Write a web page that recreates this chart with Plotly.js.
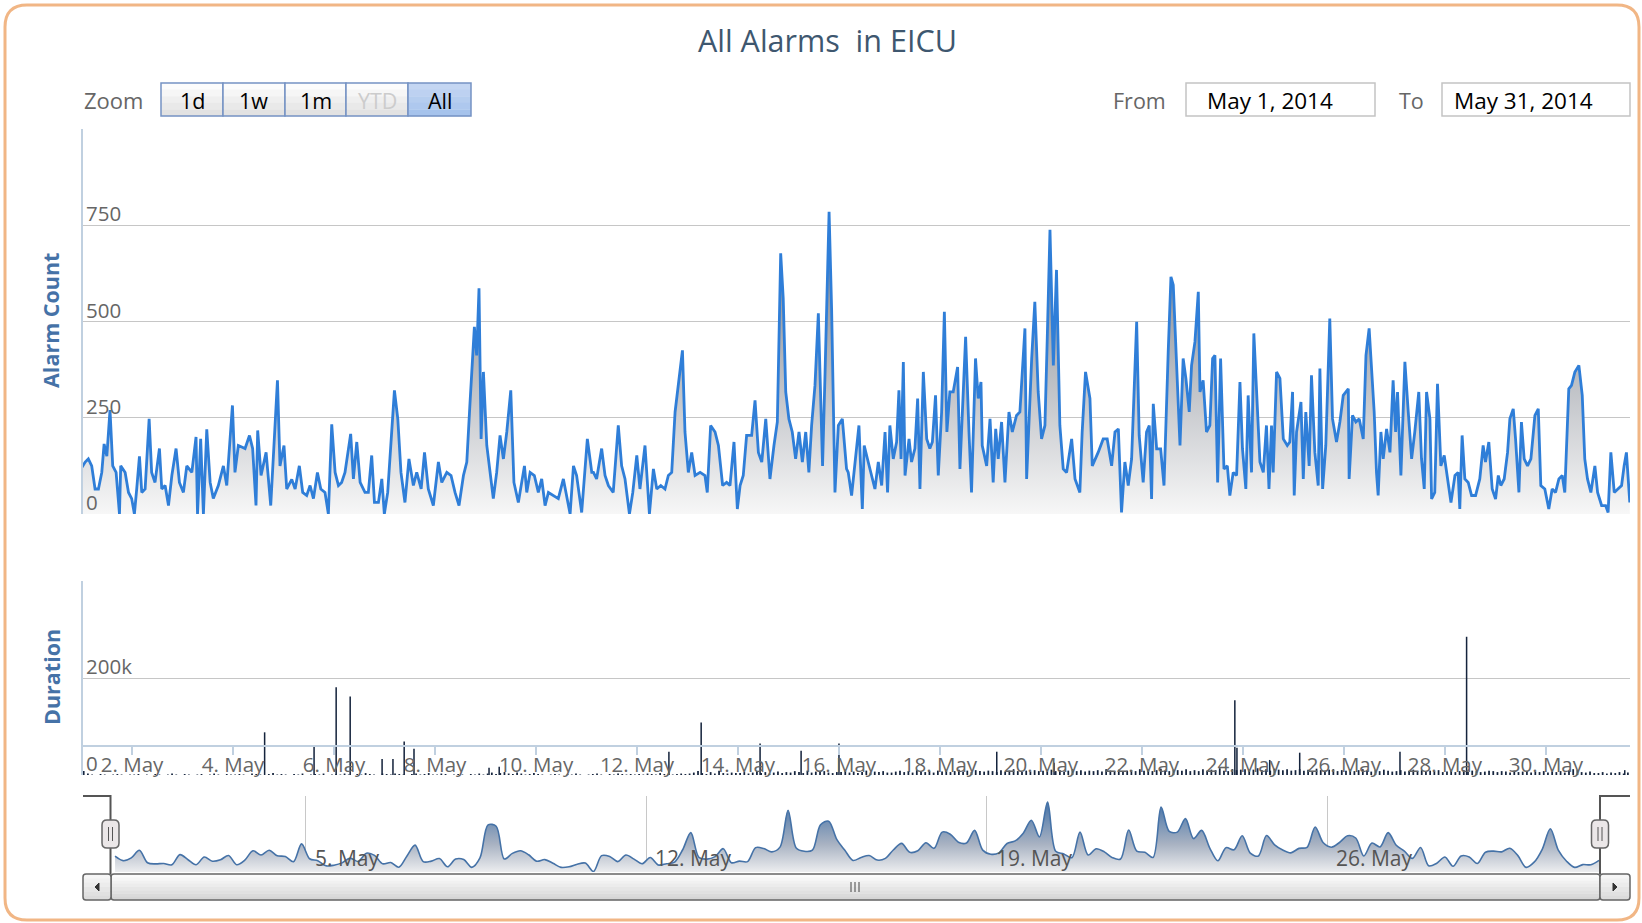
<!DOCTYPE html>
<html>
<head>
<meta charset="utf-8">
<script src="https://cdn.plot.ly/plotly-3.0.1.min.js"></script>
<style>
html,body{margin:0;padding:0;background:#fff;}
#chart{width:1642px;height:923px;}
</style>
</head>
<body>
<div id="chart"></div>
<script>
// ---------------- DATA ----------------
const chartTitle = 'All Alarms\u00A0 in EICU';
const seriesStart = '2014-05-01T00:00:00Z';

// alarm count readings: hours after 1 May 00:00 and the count at that time
const alarmHours = [
0,1.7,3.2,4.8,6.4,8.0,9.6,10.7,12.0,13.5,14.8,16.4,18.0,18.6,20.7,22.3,23.8,25.1,26.2,27.5,
28.6,30.2,32.1,33.3,34.9,37.0,38.1,39.7,41.3,42.9,44.9,46.5,48.4,50.0,52.4,54.4,55.1,56.6,57.9,59.5,
61.1,62.6,65.0,67.4,69.0,71.7,72.9,74.5,76.1,77.7,79.8,81.3,82.9,83.7,85.3,87.7,89.9,91.2,93.1,94.3,
96.2,97.5,99.9,101.5,103.5,105.1,107.0,108.6,110.2,112.1,113.7,115.7,117.3,118.9,120.5,122.1,
123.6,125.2,127.9,129.2,130.8,132.4,134.7,136.3,137.9,139.2,141.1,142.7,143.9,145.5,147.4,148.7,150.3,151.8,153.7,155.6,
157.7,159.3,161.4,163.0,164.8,167.2,169.6,171.2,173.6,175.6,177.5,179.4,181.5,183.1,184.6,186.7,187.8,188.9,189.9,191.0,
192.6,194.1,195.7,197.3,198.9,200.5,202.1,204.0,205.5,207.6,210.5,211.6,213.2,215.2,217.1,218.7,220.3,221.9,224.2,226.6,
229.0,230.6,232.2,233.8,235.3,237.7,240.4,242.5,
243.3,244.8,247.2,248.8,250.4,252.7,255.1,256.7,258.3,260.4,262.0,263.9,265.4,267.8,269.9,271.8,273.4,275.3,277.3,278.9,
280.5,282.1,284.1,285.6,286.8,288.4,290.0,291.6,294.0,296.3,297.4,299.0,301.1,302.7,304.7,306.6,308.2,310.1,311.7,313.0,
314.5,316.1,318.5,320.1,321.7,323.3,325.2,327.2,329.1,330.7,332.3,333.5,334.7,336.2,337.8,339.4,341.0,342.6,344.2,345.7,
347.0,348.6,350.2,351.3,352.2,353.4,355.3,356.5,358.1,359.7,361.6,363.6,
364.4,366.0,367.6,369.5,371.1,372.0,373.9,375.5,377.1,378.7,380.3,381.9,383.1,384.2,385.8,387.4,388.5,389.5,390.6,391.4,
393.3,394.5,396.1,397.4,398.5,400.1,401.7,403.2,404.4,405.9,407.2,408.8,410.1,411.3,412.7,414.3,416.4,417.5,420.2,421.8,
423.0,424.9,426.2,427.5,428.1,430.2,431.8,433.3,434.5,435.7,437.3,438.9,440.8,442.4,444.4,446.0,448.4,449.2,451.6,453.1,
454.7,456.3,457.9,459.0,460.3,461.9,463.4,465.0,466.6,468.2,470.6,472.2,474.5,475.6,477.2,479.3,480.4,483.2,485.6,
487.5,489.6,491.2,492.8,494.3,495.9,497.5,499.1,501.5,502.7,504.6,506.2,507.5,508.6,509.4,511.0,512.9,514.5,516.5,517.8,
518.9,520.2,522.1,523.6,524.9,526.5,527.6,529.2,530.8,531.6,533.1,534.7,536.3,537.6,538.7,540.0,541.4,543.0,544.6,545.8,
547.4,549.0,550.6,551.8,553.4,554.5,556.1,557.2,558.5,560.1,561.7,563.2,564.4,565.6,566.4,568.0,569.6,571.2,573.1,574.3,
575.6,576.4,577.5,579.6,580.7,581.9,583.5,584.6,586.2,587.8,588.6,589.9,591.4,593.3,594.6,596.5,598.1,599.7,602.1,602.5,
604.1,605.7,607.3,609.2,610.5,612.0,
614.4,615.5,616.3,617.6,618.7,620.3,621.9,623.4,624.6,625.5,627.1,629.0,630.6,632.2,633.7,635.6,636.9,638.2,639.3,640.9,
641.7,643.2,644.5,646.1,647.7,649.6,650.9,652.8,654.3,655.1,656.2,657.5,659.1,660.7,662.6,664.6,666.2,667.3,668.9,670.5,
672.1,673.4,674.6,676.2,677.8,678.9,680.5,681.6,683.2,684.4,685.7,687.3,688.9,690.8,692.4,693.6,695.5,697.4,699.0,700.6,
702.2,703.8,705.0,706.9,708.2,709.8,711.7,713.3,714.5,715.8,717.4,719.3,720.6,722.5,724.4,725.6,726.9,728.5,730.1,732.0,
733.2,734.3,735.9
];
const alarmCount = [
120,135,143,125,65,65,108,182,150,270,125,108,0,125,108,56,40,0,65,150,
56,65,247,108,82,170,65,74,22,100,170,82,56,125,108,200,0,195,0,220,
82,40,74,125,74,282,108,178,174,170,204,170,22,217,100,160,22,150,347,125,
178,65,90,65,125,56,48,74,40,108,65,56,0,233,108,74,
82,108,208,91,187,82,56,56,152,30,30,91,0,56,213,321,247,108,30,143,
74,108,65,160,65,22,135,82,108,100,56,22,100,135,286,486,412,586,195,369,
178,108,40,108,204,143,213,321,82,30,125,56,108,100,56,91,22,56,48,40,
91,40,0,125,100,4,195,108,
108,91,170,100,74,56,230,125,91,0,56,152,65,178,0,117,65,74,65,100,
108,265,352,425,213,108,160,100,108,100,56,230,213,178,74,82,74,187,13,74,
100,204,204,295,160,135,247,91,178,239,677,560,317,247,213,143,213,135,213,108,
230,334,521,334,125,369,785,534,56,230,247,117,
108,48,135,230,13,178,135,100,65,135,74,213,56,230,143,187,321,143,395,100,
195,135,170,300,65,369,195,170,187,308,100,265,525,213,317,317,382,117,460,213,
56,404,300,343,178,125,247,82,221,143,239,82,265,213,256,265,482,91,404,551,
317,195,230,456,738,386,634,230,117,108,195,91,56,213,369,300,125,160,195,
195,125,213,221,4,135,74,143,499,204,82,213,230,39,286,169,169,74,421,616,
595,438,178,404,352,265,386,447,577,317,347,213,230,404,412,82,404,117,125,48,
108,100,343,169,65,308,108,469,334,135,108,230,65,230,108,369,352,195,178,187,
317,48,213,291,91,265,125,360,160,74,378,65,178,508,247,187,239,308,325,91,
256,239,247,195,412,482,
265,108,48,213,143,221,160,347,213,317,100,395,265,143,213,317,143,65,317,247,
39,56,338,125,152,74,30,100,108,13,204,91,82,48,48,91,178,135,187,65,
39,100,74,91,160,247,273,195,56,239,143,125,143,256,273,74,65,13,65,56,
91,100,56,325,334,369,386,308,143,91,56,125,56,22,22,4,160,56,65,74,
125,160,30
];

// small duration bars, one every 2 hours from the series start, in thousands
const durationIntervalHours = 2;
const durationSmallK = [
8,3,1,0,2,1,0,1,2,1,0,1, 1,2,0,1,0,2,1,0,1,3,1,0, 2,1,0,1,2,0,1,3,1,0,2,1, 1,2,1,0,3,2,1,0,2,4,1,2,
1,0,2,1,3,0,1,2,1,3,0,1, 2,1,3,1,0,2,1,4,2,1,0,3, 2,1,3,2,1,0,2,3,1,2,4,1, 1,3,2,0,1,2,1,0,2,1,3,1,
3,5,2,4,6,3,2,5,3,1,2,4, 2,1,0,1,2,1,0,2,1,3,1,0, 1,2,3,1,0,2,1,3,2,1,2,1, 2,1,3,2,1,4,2,3,1,2,3,2,
3,5,8,4,2,6,3,9,4,3,5,4, 4,6,3,5,8,4,6,3,5,7,4,6, 5,8,6,4,9,5,7,6,8,5,4,6, 6,8,5,7,4,6,9,5,7,6,8,5,
5,7,9,6,8,5,10,7,6,8,5,9, 7,9,6,8,11,7,9,6,10,8,7,9, 8,6,10,7,9,12,8,6,9,7,10,8, 9,7,11,8,10,7,9,12,8,10,7,9,
8,10,7,12,9,8,11,7,9,10,8,12, 9,11,8,10,13,9,8,11,10,9,12,8, 10,8,12,9,11,10,14,9,8,12,10,11, 12,9,11,14,10,12,9,13,11,10,12,9,
10,12,9,11,8,13,10,9,11,12,8,10, 9,11,8,10,12,9,7,10,8,11,9,7, 8,10,7,9,11,8,10,7,9,8,10,6, 7,9,6,8,10,7,9,8,6,7,9,8,
6,8,7,5,9,6,7,8,5,7,6,8, 5,7,6,8,5,9,12,10,6,5,7,4, 4,6,3,5,4,6,3,5
];

// tall duration bars
const durationPeakTimes = [
'2014-05-04 15:00','2014-05-05 14:30','2014-05-06 01:00','2014-05-06 07:40','2014-05-06 22:50',
'2014-05-07 04:00','2014-05-07 09:20','2014-05-07 14:00','2014-05-09 01:40','2014-05-09 06:30',
'2014-05-12 15:10','2014-05-13 06:30','2014-05-14 10:30','2014-05-15 06:00','2014-05-16 00:00',
'2014-05-19 03:00','2014-05-20 06:15','2014-05-23 20:10','2014-05-23 21:10','2014-05-24 12:45',
'2014-05-25 03:00','2014-05-27 02:40','2014-05-28 10:20','2014-05-31 13:30'
];
const durationPeakValues = [
88000,60000,181000,162000,33000,
33000,69000,54000,15000,17000,
48000,108000,65000,50000,65000,
48000,25000,154000,56000,31000,
46000,48000,285000,10000
];

const mainYTicks = [0,250,500,750];
const durationYTicks = [0,200000];
const durationYLabels = ['0','200k'];
const navTickDates = ['2014-05-05','2014-05-12','2014-05-19','2014-05-26'];
const navTickLabels = ['5. May','12. May','19. May','26. May'];
const zoomButtons = ['1d','1w','1m','YTD','All'];
const fromText = 'May 1, 2014';
const toText = 'May 31, 2014';

// ---------------- BUILD ----------------
const W = 1642, H = 923;
const FONT = 'Open Sans, Noto Sans, sans-serif';
const px = v => v / W;
const py = v => 1 - v / H;
const t0 = Date.parse(seriesStart);
const HOUR = 3600000;
const iso = ms => new Date(ms).toISOString();

const alarmX = alarmHours.map(h => iso(t0 + h * HOUR));
const smallX = durationSmallK.map((_, i) => iso(t0 + (i * durationIntervalHours + 1) * HOUR));
const smallY = durationSmallK.map(v => v * 1000);

// navigator: readings averaged in 4-hour groups (the navigator's data grouping)
const groups = {};
alarmHours.forEach((h, i) => {
  const g = Math.floor(h / 4);
  (groups[g] = groups[g] || []).push(alarmCount[i]);
});
const navX = [], navY = [];
Object.keys(groups).map(Number).sort((a, b) => a - b).forEach(g => {
  const arr = groups[g];
  navX.push(iso(t0 + (g * 4 + 2) * HOUR));
  navY.push(arr.reduce((a, b) => a + b, 0) / arr.length);
});
const navMax = Math.max(...navY);

const mainRange = ['2014-05-01 00:40', '2014-05-31 16:00'];
const navRange = ['2014-05-01 00:00', '2014-05-31 14:30'];

const traces = [
  {
    x: alarmX, y: alarmCount, xaxis: 'x', yaxis: 'y', type: 'scatter', mode: 'lines',
    line: {color: '#2F7ED8', width: 2.8},
    fill: 'tozeroy',
    fillgradient: {type: 'vertical', start: 0, stop: 750,
      colorscale: [[0, 'rgb(247,247,247)'], [0.35, 'rgb(203,205,209)'], [1, 'rgb(120,126,135)']]},
    hoverinfo: 'skip'
  },
  {
    x: smallX, y: smallY, xaxis: 'x2', yaxis: 'y2', type: 'bar',
    width: 3.0 * 1e6, marker: {color: '#15243d', line: {width: 0}}, hoverinfo: 'skip'
  },
  {
    x: durationPeakTimes, y: durationPeakValues, xaxis: 'x2', yaxis: 'y2', type: 'bar',
    width: 2.6 * 1e6, marker: {color: '#15243d', line: {width: 0}}, hoverinfo: 'skip'
  },
  {
    x: navX, y: navY, xaxis: 'x3', yaxis: 'y3', type: 'scatter', mode: 'lines',
    line: {color: '#4572A7', width: 1.6, shape: 'spline', smoothing: 0.9},
    fill: 'tozeroy',
    fillgradient: {type: 'vertical', start: 0, stop: navMax,
      colorscale: [[0, 'rgb(236,237,239)'], [0.4, 'rgb(168,178,194)'], [1, 'rgb(69,114,167)']]},
    hoverinfo: 'skip'
  }
];

const shapes = [];
const annotations = [];

function rr(x0, y0, x1, y1, r) {
  const X = v => px(v).toFixed(5), Y = v => py(v).toFixed(5);
  return `M${X(x0 + r)},${Y(y0)} L${X(x1 - r)},${Y(y0)} Q${X(x1)},${Y(y0)} ${X(x1)},${Y(y0 + r)} ` +
         `L${X(x1)},${Y(y1 - r)} Q${X(x1)},${Y(y1)} ${X(x1 - r)},${Y(y1)} L${X(x0 + r)},${Y(y1)} ` +
         `Q${X(x0)},${Y(y1)} ${X(x0)},${Y(y1 - r)} L${X(x0)},${Y(y0 + r)} Q${X(x0)},${Y(y0)} ${X(x0 + r)},${Y(y0)} Z`;
}
function pathPx(pts) {
  return pts.map((p, i) => (i ? 'L' : 'M') + px(p[0]).toFixed(5) + ',' + py(p[1]).toFixed(5)).join(' ');
}
function rectPx(x0, y0, x1, y1, fill, line, lw, layer) {
  shapes.push({type: 'rect', xref: 'paper', yref: 'paper', x0: px(x0), x1: px(x1), y0: py(y1), y1: py(y0),
    fillcolor: fill, line: {color: line || 'rgba(0,0,0,0)', width: lw || 0}, layer: layer || 'above'});
}
function linePx(x0, y0, x1, y1, color, w) {
  shapes.push({type: 'line', xref: 'paper', yref: 'paper', x0: px(x0), x1: px(x1), y0: py(y0), y1: py(y1),
    line: {color: color, width: w}});
}
function text(t, x, y, opts) {
  annotations.push(Object.assign({text: t, xref: 'paper', yref: 'paper', x: px(x), y: py(y), showarrow: false,
    xanchor: 'center', yanchor: 'middle', font: {family: FONT, size: 20, color: '#666'}}, opts || {}));
}
function gradRect(x0, y0, x1, y1, c0, c1, n) {
  const lerp = (a, b, t) => Math.round(a + (b - a) * t);
  for (let k = 0; k < n; k++) {
    const t = n > 1 ? k / (n - 1) : 0;
    const c = `rgb(${lerp(c0[0], c1[0], t)},${lerp(c0[1], c1[1], t)},${lerp(c0[2], c1[2], t)})`;
    rectPx(x0, y0 + (y1 - y0) * k / n, x1, y0 + (y1 - y0) * (k + 1) / n + 0.3, c);
  }
}

// outer rounded border
shapes.push({type: 'path', xref: 'paper', yref: 'paper', path: rr(5, 5, 1639, 920, 22),
  line: {color: '#F1B685', width: 3}, fillcolor: 'rgba(0,0,0,0)', layer: 'below'});

// title
text(chartTitle, 827, 40, {font: {family: FONT, size: 30.5, color: '#3E576F'}});

// zoom buttons
text('Zoom', 113, 100, {font: {family: FONT, size: 22, color: '#666'}});
const btnEdges = [161, 223, 285, 346, 408, 471];
zoomButtons.forEach((b, i) => {
  const sel = b === 'All';
  gradRect(btnEdges[i], 83, btnEdges[i + 1], 116, sel ? [196, 214, 242] : [252, 252, 252], sel ? [166, 195, 236] : [226, 226, 226], 5);
  rectPx(btnEdges[i], 83, btnEdges[i + 1], 116, 'rgba(0,0,0,0)', '#7593C3', 1.5);
  text(b, (btnEdges[i] + btnEdges[i + 1]) / 2, 100,
    {font: {family: FONT, size: 21.5, color: b === 'YTD' ? '#CCCCCC' : '#000'}});
});

// From / To inputs
text('From', 1139, 100, {font: {family: FONT, size: 21.5, color: '#666'}});
rectPx(1186, 83, 1375, 116, '#fff', '#C4C4C4', 1.5);
text(fromText, 1205, 100, {xanchor: 'left', font: {family: FONT, size: 22.5, color: '#000'}});
text('To', 1411, 100, {font: {family: FONT, size: 21.5, color: '#666'}});
rectPx(1442, 83, 1630, 116, '#fff', '#C4C4C4', 1.5);
text(toText, 1452, 100, {xanchor: 'left', font: {family: FONT, size: 22.5, color: '#000'}});

// axis titles
text('Alarm Count', 51, 321, {textangle: -90, font: {family: FONT, size: 21.5, color: '#4572A7', weight: 'bold'}});
text('Duration', 51, 677, {textangle: -90, font: {family: FONT, size: 21.5, color: '#4572A7', weight: 'bold'}});

// y tick labels (placed above grid lines)
mainYTicks.forEach(v => annotations.push({text: String(v), xref: 'paper', x: px(84), xanchor: 'left', yref: 'y', y: v,
  yanchor: 'bottom', yshift: -4, showarrow: false, font: {family: FONT, size: 20.5, color: '#666'}}));
durationYTicks.forEach((v, i) => annotations.push({text: durationYLabels[i], xref: 'paper', x: px(84), xanchor: 'left', yref: 'y2', y: v,
  yanchor: 'bottom', yshift: -4, showarrow: false, font: {family: FONT, size: 20.5, color: '#666'}}));

// navigator labels
navTickDates.forEach((d, i) => annotations.push({text: navTickLabels[i], xref: 'x3', x: d, xanchor: 'left', xshift: 7,
  yref: 'paper', y: py(858), yanchor: 'middle', showarrow: false, font: {family: FONT, size: 21, color: '#555'}}));

// navigator outline
shapes.push({type: 'path', xref: 'paper', yref: 'paper', path: pathPx([[83, 796], [110.5, 796], [110.5, 874]]), line: {color: '#555', width: 2}});
shapes.push({type: 'path', xref: 'paper', yref: 'paper', path: pathPx([[1600, 874], [1600, 796], [1630, 796]]), line: {color: '#555', width: 2}});

// scrollbar
gradRect(111, 874, 1600, 900, [252, 252, 252], [214, 214, 214], 8);
shapes.push({type: 'path', xref: 'paper', yref: 'paper', path: rr(111, 874, 1600, 900, 3), line: {color: '#666', width: 1.5}, fillcolor: 'rgba(0,0,0,0)'});
gradRect(83, 874, 111, 900, [246, 246, 246], [220, 220, 220], 6);
shapes.push({type: 'path', xref: 'paper', yref: 'paper', path: rr(83, 874, 111, 900, 3), line: {color: '#666', width: 1.5}, fillcolor: 'rgba(0,0,0,0)'});
gradRect(1600, 874, 1630, 900, [246, 246, 246], [220, 220, 220], 6);
shapes.push({type: 'path', xref: 'paper', yref: 'paper', path: rr(1600, 874, 1630, 900, 3), line: {color: '#666', width: 1.5}, fillcolor: 'rgba(0,0,0,0)'});
shapes.push({type: 'path', xref: 'paper', yref: 'paper', path: pathPx([[99, 883], [99, 891], [95, 887]]) + ' Z', fillcolor: '#333', line: {color: '#333', width: 1}});
shapes.push({type: 'path', xref: 'paper', yref: 'paper', path: pathPx([[1613, 883], [1613, 891], [1617, 887]]) + ' Z', fillcolor: '#333', line: {color: '#333', width: 1}});
[851, 855, 859].forEach(x => linePx(x, 882, x, 892, '#444', 1));

// handles
[110.5, 1600].forEach(cx => {
  shapes.push({type: 'path', xref: 'paper', yref: 'paper', path: rr(cx - 8.5, 820, cx + 8.5, 848, 5),
    line: {color: '#666', width: 1.5}, fillcolor: '#EBE7E8'});
  linePx(cx - 2, 827, cx - 2, 841, '#555', 1);
  linePx(cx + 2, 827, cx + 2, 841, '#555', 1);
});

const axBase = {showticklabels: false, zeroline: false, showgrid: false, ticks: '', fixedrange: true};

const layout = {
  width: W, height: H,
  margin: {l: 0, r: 0, t: 0, b: 0, pad: 0},
  paper_bgcolor: '#fff', plot_bgcolor: 'rgba(0,0,0,0)',
  showlegend: false, barmode: 'overlay',
  font: {family: FONT, size: 19, color: '#666'},
  xaxis: Object.assign({}, axBase, {type: 'date', domain: [px(83), px(1630)], range: mainRange, anchor: 'y'}),
  yaxis: Object.assign({}, axBase, {domain: [py(514), py(129)], range: [0, 1000], tickvals: [0, 250, 500, 750, 1000],
    showgrid: true, gridcolor: '#C6C6C6', gridwidth: 1, showline: true, linecolor: '#C0D0E0', linewidth: 2, anchor: 'x'}),
  xaxis2: Object.assign({}, axBase, {type: 'date', domain: [px(83), px(1630)], range: mainRange, anchor: 'free',
    position: py(745), showline: true, linecolor: '#C0D0E0', linewidth: 1.5, ticks: 'outside', ticklen: 8, tickwidth: 1.5,
    tickcolor: '#C0D0E0', showticklabels: true, tick0: '2014-05-02', dtick: 2 * 86400000, tickformat: '%-d. %b',
    ticklabelstandoff: -7, tickfont: {family: FONT, size: 20.5, color: '#666'}}),
  yaxis2: Object.assign({}, axBase, {domain: [py(775), py(581)], range: [0, 400000], tickvals: [0, 200000, 400000],
    showgrid: true, gridcolor: '#C6C6C6', gridwidth: 1, showline: true, linecolor: '#C0D0E0', linewidth: 2, anchor: 'x2'}),
  xaxis3: Object.assign({}, axBase, {type: 'date', domain: [px(111), px(1600)], range: navRange, anchor: 'y3',
    tickvals: navTickDates, showgrid: true, gridcolor: '#C8C8C8', gridwidth: 1}),
  yaxis3: Object.assign({}, axBase, {domain: [py(872), py(796)], range: [0, navMax / 0.92], anchor: 'x3'}),
  shapes: shapes,
  annotations: annotations
};

Plotly.newPlot('chart', traces, layout, {displayModeBar: false, staticPlot: true});
</script>
</body>
</html>
